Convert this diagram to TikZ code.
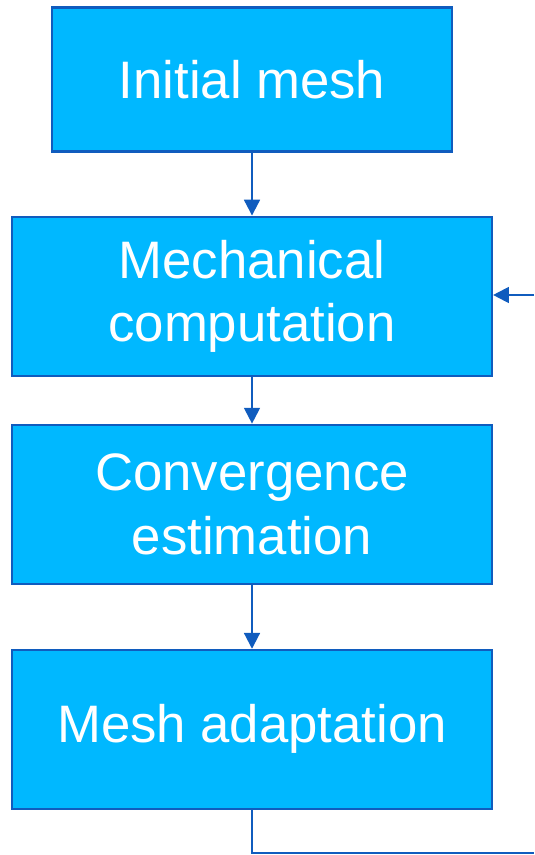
\documentclass[tikz,border=0pt]{standalone}
\usepackage{fontspec}
\setmainfont{Liberation Sans}
\usetikzlibrary{arrows.meta,positioning}
\definecolor{boxfill}{RGB}{0,184,255}
\definecolor{boxline}{RGB}{16,92,190}

\begin{document}
\begin{tikzpicture}[node distance=12mm, every node/.style={font=\fontsize{30}{36}\selectfont, text=white},
    stage/.style={draw=boxline,fill=boxfill,line width=1.2pt,rectangle,minimum width=96mm,minimum height=31.8mm,align=center},
    flow/.style={draw=boxline,line width=1.2pt,-{Triangle[length=9pt,width=9pt]}}]
  \useasboundingbox (0,0) rectangle (10.68,-17.1);
  \node[stage,minimum width=80mm,minimum height=28.8mm] (init) at (5.04,-1.59) {Initial mesh};
  \node[stage,below=12.6mm of init] (mech) {Mechanical\\computation};
  \node[stage,below=9.4mm of mech] (conv) {Convergence\\estimation};
  \node[stage,below=12.8mm of conv] (adapt) {Mesh adaptation};
  \coordinate (back) at (10.68,-5.9);
  \coordinate (down) at (5.04,-17.06);
  \coordinate (out) at (10.68,-17.06);
  \draw[flow] (init) -- (mech);
  \draw[flow] (mech) -- (conv);
  \draw[flow] (conv) -- (adapt);
  \draw[flow] (back) -- (mech.east |- back);
  \draw[boxline,line width=1.2pt] (adapt) -- (down) -- (out);
\end{tikzpicture}
\end{document}
